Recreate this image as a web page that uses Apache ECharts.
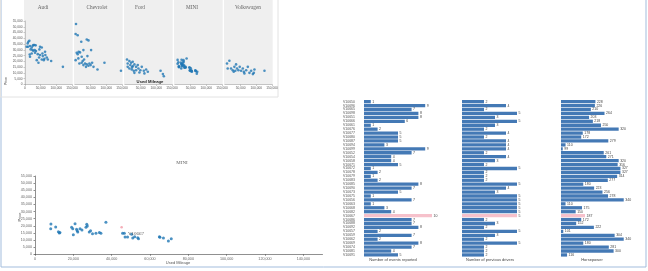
<!DOCTYPE html>
<html><head><meta charset="utf-8">
<script src="https://cdn.jsdelivr.net/npm/echarts@6/dist/echarts.min.js"></script>
<style>html,body{margin:0;padding:0;background:#fff}#c{width:648px;height:271px}</style>
</head><body><div id="c"></div>
<script>
// ---------- DATA ----------
const makes = ['Audi', 'Chevrolet', 'Ford', 'MINI', 'Volkswagen'];
// [used mileage, price]
const audi = [[8600,35600],[10700,37000],[14000,37900],[5400,32700],[9600,32700],[16000,33300],[21400,32000],[24600,33600],[26800,34200],[30000,34200],[34000,33900],[18000,30400],[23600,29800],[26800,29200],[31000,29800],[35000,29000],[48000,32700],[53500,32000],[46000,30400],[15000,26000],[21400,26900],[32000,27500],[40700,26300],[48000,25500],[56800,24600],[64000,28400],[65000,25500],[69600,23400],[72800,21700],[62000,22300],[53500,21700],[45000,23400],[37500,21100],[43000,18800],[16000,24000],[83500,20300],[121000,15300],[55700,26900],[60000,21100]];
const chevrolet = [[3200,52400],[2000,43700],[8600,42600],[37500,39000],[43000,38200],[20000,37000],[5400,27500],[11800,28400],[16000,27800],[26800,29800],[8600,26300],[2000,21100],[10700,22600],[21400,24000],[29000,21700],[39600,24600],[51400,29800],[14000,18200],[21400,18800],[26800,16800],[32000,18200],[37500,17400],[43000,16200],[46000,18200],[50000,16800],[54600,18800],[59000,15300],[71800,13000],[94000,18800],[146700,11900],[35000,15300],[24600,20300]];
const ford = [[6400,21700],[14000,20300],[8600,18200],[19300,18800],[24600,19700],[17000,16800],[24600,15900],[30000,17400],[35300,15300],[40700,16800],[14000,13900],[21400,13000],[27800,11900],[35300,12400],[42800,13900],[49000,12400],[53500,15300],[60000,11900],[67500,13000],[72800,11000],[46000,10400],[30000,10100],[62000,9600],[113500,11900],[121000,9000],[124000,7200],[8600,15300],[22500,14800]];
const mini = [[8300,21300],[8200,18000],[10800,19200],[12200,15900],[12700,15000],[13000,15400],[19100,19000],[19700,18000],[20000,13800],[20900,21500],[21700,17600],[22300,15700],[22000,16600],[23500,18000],[24500,17100],[26600,19000],[27000,21100],[27300,19900],[28300,15700],[29000,16600],[30000,14500],[31800,14700],[33600,15400],[34400,14700],[37000,22500],[45700,14700],[46600,14700],[47000,12200],[48300,12200],[50400,14000],[51000,11500],[52000,12400],[53600,11700],[54000,11000],[64900,12400],[65200,11900],[67000,11500],[69600,9400],[71100,11000]];
const volkswagen = [[6400,18200],[14000,20600],[8600,13900],[24600,12400],[30000,15300],[35300,17400],[38500,13900],[42800,12400],[47000,15300],[51400,11900],[56800,13900],[60000,11000],[67500,12400],[72800,15300],[78000,10100],[83500,11900],[89000,9000],[92000,10100],[94000,13000],[126000,11900],[27800,11000],[19300,13900],[62000,9600],[33000,11900]];
const highlightId = 'V10667';
const miniHighlight = [45200, 19000];

const carIds = ['V10650','V10696','V10665','V10698','V10651','V10666','V10661','V10676','V10677','V10680','V10687','V10694','V10699','V10652','V10654','V10658','V10671','V10672','V10678','V10679','V10683','V10685','V10690','V10673','V10675','V10656','V10663','V10668','V10682','V10667','V10686','V10688','V10692','V10657','V10659','V10662','V10669','V10674','V10681','V10691'];
const events = [1,9,7,8,8,6,1,2,5,5,5,3,9,7,4,4,5,1,2,1,2,8,7,5,1,7,1,3,4,10,7,7,8,2,7,2,8,7,4,5];
const drivers = [2,4,2,5,3,5,3,2,4,2,4,4,4,2,4,3,2,5,2,2,2,5,4,3,5,5,5,5,5,5,2,3,2,5,3,2,5,2,2,2];
const horsepower = [228,226,210,264,203,218,250,320,178,172,279,110,99,261,271,320,316,327,327,314,277,180,223,256,278,340,110,175,150,187,172,152,222,101,304,340,180,281,300,116];
const barTitles = ['Number of events reported', 'Number of previous drivers', 'Horsepower'];

// ---------- CHART ----------
const fmt = v => Number(v).toLocaleString('en-US');
const chart = echarts.init(document.getElementById('c'), null, {renderer: 'canvas', width: 648, height: 271});
const grids = [], xAxes = [], yAxes = [], series = [], graphics = [];
const sans = 'Liberation Sans', serif = 'Liberation Serif';

graphics.push({type: 'rect', shape: {x: 1, y: -2, width: 645, height: 269}, style: {fill: 'none', stroke: '#a3bddd', lineWidth: 1}, z: -20});
graphics.push({type: 'rect', shape: {x: 0.5, y: -1, width: 277.5, height: 98}, style: {fill: 'none', stroke: '#e2e2e2', lineWidth: 1}, z: -20});

const facetData = [audi, chevrolet, ford, mini, volkswagen];
const facetTitleX = [43, 97, 140, 192, 248];
facetData.forEach((d, i) => {
  grids.push({left: 25 + 50 * i, top: 21, width: 47, height: 63.5});
  xAxes.push({type: 'value', gridIndex: i, min: 0, max: 150000, interval: 50000,
    axisLine: {show: true, lineStyle: {color: '#999', width: 0.5}},
    axisTick: {show: true, length: 1.5, lineStyle: {color: '#999', width: 0.5}},
    splitLine: {show: false},
    axisLabel: {fontSize: 3.2, color: '#555', fontFamily: sans, margin: 2.5, showMinLabel: i === 0, formatter: fmt}});
  yAxes.push({type: 'value', gridIndex: i, min: 0, max: 55000, interval: 5000, show: i === 0,
    axisLine: {show: true, lineStyle: {color: '#999', width: 0.5}},
    axisTick: {show: true, length: 1.5, lineStyle: {color: '#999', width: 0.5}},
    splitLine: {show: false},
    axisLabel: {fontSize: 3.2, color: '#555', fontFamily: sans, margin: 2.5, formatter: fmt}});
  series.push({type: 'scatter', xAxisIndex: i, yAxisIndex: i, data: d, symbolSize: 2.6,
    itemStyle: {color: '#1f77b4'}, silent: true});
  graphics.push({type: 'rect', shape: {x: 24 + 50 * i, y: 0, width: 48.7, height: 85}, style: {fill: '#efefef'}, z: -10});
  graphics.push({type: 'text', x: facetTitleX[i], y: 7.5, style: {text: makes[i], font: '5.3px "' + serif + '"', fill: '#666', align: 'center', verticalAlign: 'middle'}});
});
graphics.push({type: 'text', x: 150, y: 82.3, style: {text: 'Used Mileage', font: 'bold 4.2px "' + sans + '"', fill: '#222', align: 'center', verticalAlign: 'middle'}, z: 10});
graphics.push({type: 'text', x: 6, y: 81, rotation: Math.PI / 2, style: {text: 'Price', font: '3.6px "' + sans + '"', fill: '#444', align: 'center', verticalAlign: 'middle'}});

// MINI detail chart (grid 5)
grids.push({left: 35, top: 176, width: 287.5, height: 78.3});
xAxes.push({type: 'value', gridIndex: 5, min: 0, max: 150000, interval: 20000,
  axisLine: {show: true, lineStyle: {color: '#444', width: 0.6}},
  axisTick: {show: true, length: 1.5, lineStyle: {color: '#444', width: 0.6}},
  splitLine: {show: false},
  axisLabel: {fontSize: 3.7, color: '#666', fontFamily: sans, margin: 3, showMaxLabel: false, formatter: fmt}});
yAxes.push({type: 'value', gridIndex: 5, min: 0, max: 55000, interval: 5000,
  axisLine: {show: true, lineStyle: {color: '#444', width: 0.6}},
  axisTick: {show: true, length: 1.5, lineStyle: {color: '#444', width: 0.6}},
  splitLine: {show: false},
  axisLabel: {fontSize: 3.7, color: '#666', fontFamily: sans, margin: 3, formatter: fmt}});
series.push({type: 'scatter', xAxisIndex: 5, yAxisIndex: 5, data: mini, symbolSize: 3,
  itemStyle: {color: '#1f77b4'}, silent: true});
series.push({type: 'scatter', xAxisIndex: 5, yAxisIndex: 5, data: [miniHighlight], symbolSize: 2.6,
  itemStyle: {color: '#f29aa6'}, silent: true,
  label: {show: true, position: 'right', offset: [0, 6], formatter: highlightId, fontFamily: serif, fontSize: 5, color: '#333'}});
graphics.push({type: 'text', x: 182, y: 163, style: {text: 'MINI', font: '5px "' + serif + '"', fill: '#666', align: 'center', verticalAlign: 'middle'}});
graphics.push({type: 'text', x: 178, y: 263, style: {text: 'Used Mileage', font: '4px "' + sans + '"', fill: '#555', align: 'center', verticalAlign: 'middle'}});
graphics.push({type: 'text', x: 20, y: 217, rotation: Math.PI / 2, style: {text: 'Price', font: '4px "' + sans + '"', fill: '#555', align: 'center', verticalAlign: 'middle'}});

// Bar charts (grids 6..8)
const barVals = [events, drivers, horsepower];
const barLeft = [364, 462, 561];
const barWidthPx = [68, 55, 64];
const barMin = [0, 0, 92];
const barMax = [10, 5, 345];
const titleX = [393, 490, 592];
barVals.forEach((vals, j) => {
  const gi = 6 + j;
  grids.push({left: barLeft[j], top: 99.7, width: barWidthPx[j], height: 157.2});
  xAxes.push({type: 'value', gridIndex: gi, min: barMin[j], max: barMax[j], show: false});
  yAxes.push({type: 'category', gridIndex: gi, data: carIds, inverse: true,
    axisLine: {show: false}, axisTick: {show: false}, splitLine: {show: false},
    axisLabel: {show: j === 0, fontSize: 3.5, color: '#555', fontFamily: sans, margin: 9, interval: 0}});
  series.push({type: 'bar', xAxisIndex: gi, yAxisIndex: gi, clip: true, barCategoryGap: '16%',
    data: vals.map((v, k) => carIds[k] === highlightId ? {value: v, itemStyle: {color: '#f6c1cb'}} : v),
    itemStyle: {color: '#4479b5'}, silent: true,
    label: {show: true, position: 'right', distance: 1.5, fontSize: 3.5, color: '#444', fontFamily: sans}});
  graphics.push({type: 'text', x: titleX[j], y: 260, style: {text: barTitles[j], font: '4px "' + sans + '"', fill: '#444', align: 'center', verticalAlign: 'middle'}});
});

chart.setOption({
  animation: false,
  backgroundColor: '#fff',
  grid: grids, xAxis: xAxes, yAxis: yAxes, series: series,
  graphic: {elements: graphics}
});
</script>
</body></html>
